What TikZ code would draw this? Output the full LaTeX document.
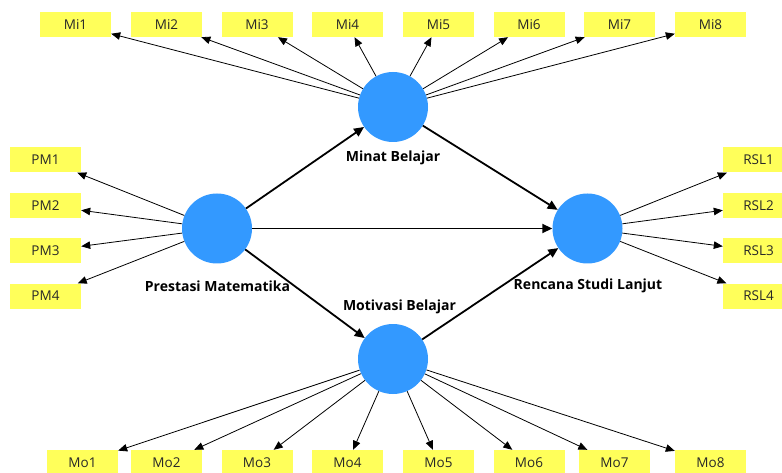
\documentclass[tikz,border=0pt]{standalone}
\usepackage{fontspec}
\setmainfont{Open Sans}
\usetikzlibrary{arrows.meta}
\definecolor{indyellow}{RGB}{255,255,90}
\definecolor{latblue}{RGB}{51,153,255}
\definecolor{boxtext}{RGB}{40,40,40}
\tikzset{
  indbox/.style={rectangle, fill=indyellow, minimum width=71pt, minimum height=25pt, inner sep=0pt, font=\fontsize{13.5}{15}\selectfont, text=boxtext},
  latent/.style={circle, fill=latblue, minimum size=70pt, inner sep=0pt},
  latlabel/.style={font=\fontsize{14}{16}\selectfont\bfseries, inner sep=0pt},
  load/.style={-{Triangle[length=9pt,width=7.5pt]}, line width=0.8pt, black},
  path/.style={-{Triangle[length=10pt,width=9pt]}, line width=1.8pt, black}
}
\begin{document}
\begin{tikzpicture}[x=1pt,y=-1pt]
\useasboundingbox (0,0) rectangle (782,473);
\clip (0,0) rectangle (782,473);
\fill[white] (0,0) rectangle (782,473);
% latent variables
\node[latent] (mb) at (393,107) {};
\node[latent] (pm) at (217,228.5) {};
\node[latent] (rsl) at (587.5,228.5) {};
\node[latent] (mo) at (393,359) {};
% labels
\node[latlabel] (mbl) at (393,158) {Minat Belajar};
\node[latlabel] (pml) at (217.5,286) {Prestasi Matematika};
\node[latlabel] (rsll) at (588,286) {Rencana Studi Lanjut};
\node[latlabel] (mol) at (399.5,307) {Motivasi Belajar};
% indicators
\foreach \i/\x in {1/75.5,2/166.5,3/257,4/347.5,5/438.5,6/529,7/619.5,8/710.5}{
  \node[indbox] (mi\i) at (\x,24.5) {Mi\i};
  \draw[load] (mb) -- (mi\i);
}
\foreach \i/\x in {1/82.5,2/166.5,3/257,4/347.5,5/438.5,6/529,7/614.5,8/710.5}{
  \node[indbox] (mo\i) at (\x,462.5) {Mo\i};
  \draw[load] (mo) -- (mo\i);
}
\foreach \i/\y in {1/160,2/205.5,3/251,4/296}{
  \node[indbox] (pm\i) at (45.5,\y) {PM\i};
  \draw[load] (pm) -- (pm\i);
  \node[indbox] (rsl\i) at (758.5,\y) {RSL\i};
  \draw[load] (rsl) -- (rsl\i);
}
% structural paths
\draw[path] (pm) -- (mb);
\draw[path] (pm) -- (rsl);
\draw[path] (pm) -- (mo);
\draw[path] (mb) -- (rsl);
\draw[path] (mo) -- (rsl);
\end{tikzpicture}
\end{document}
